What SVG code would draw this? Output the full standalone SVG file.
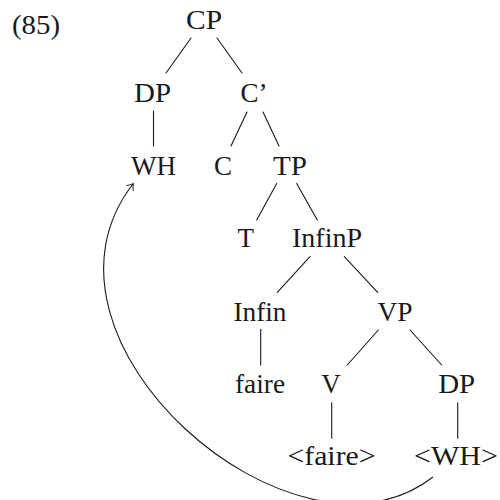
<svg xmlns="http://www.w3.org/2000/svg" width="500" height="500" viewBox="0 0 500 500">
  <style>
    .edge { stroke: #1a1a1a; stroke-width: 1.1; fill: none; stroke-linecap: round; }
    .move { stroke: #1a1a1a; stroke-width: 1.1; fill: none; }
  </style>
  <defs>
    <marker id="tip" viewBox="-6 -5 8 10" markerWidth="8" markerHeight="10" refX="0" refY="0" orient="auto" markerUnits="userSpaceOnUse">
      <path d="M -5 -4 Q -1.5 -1 0.5 0 Q -1.5 1 -5 4" fill="none" stroke="#1a1a1a" stroke-width="1" stroke-linecap="round"/>
    </marker>
  </defs>

  <text x="36" y="34" font-family="'Liberation Serif', serif" font-size="27" fill="#1a1a1a" text-anchor="middle" textLength="48" lengthAdjust="spacingAndGlyphs">(85)</text>

  <!-- tree branches -->
  <g id="connectors">
    <line class="edge" x1="191" y1="38" x2="166" y2="73"/>
    <line class="edge" x1="217" y1="38" x2="242" y2="73"/>
    <line class="edge" x1="153.5" y1="111" x2="153.5" y2="146"/>
    <line class="edge" x1="247" y1="112" x2="231" y2="146"/>
    <line class="edge" x1="263" y1="112" x2="279" y2="146"/>
    <line class="edge" x1="276.7" y1="183.5" x2="256.7" y2="220"/>
    <line class="edge" x1="296.7" y1="183.5" x2="317.3" y2="220"/>
    <line class="edge" x1="310" y1="256.7" x2="277.3" y2="292.3"/>
    <line class="edge" x1="344.3" y1="256.7" x2="377.7" y2="292.3"/>
    <line class="edge" x1="260.7" y1="329.3" x2="260.7" y2="365"/>
    <line class="edge" x1="378.3" y1="330" x2="347.3" y2="365"/>
    <line class="edge" x1="410" y1="330" x2="441.7" y2="365"/>
    <line class="edge" x1="331.7" y1="402.7" x2="331.7" y2="438.3"/>
    <line class="edge" x1="457.7" y1="402.7" x2="457.7" y2="438.3"/>
    <!-- movement arrow from the trace back to the moved phrase -->
    <path class="move" d="M 433 477 C 295 585, 12 340, 133 184" marker-end="url(#tip)"/>
  </g>

  <g font-family="'Liberation Serif', serif" font-size="27" fill="#1a1a1a" text-anchor="middle">
    <g id="n-CP"><text x="204" y="29" textLength="36" lengthAdjust="spacingAndGlyphs">CP</text></g>
    <g id="n-DP1"><text x="152.5" y="102" textLength="37" lengthAdjust="spacingAndGlyphs">DP</text></g>
    <g id="n-Cbar"><text x="254" y="102">C’</text></g>
    <g id="n-WH"><text x="153.5" y="175" textLength="45" lengthAdjust="spacingAndGlyphs">WH</text></g>
    <g id="n-C"><text x="223" y="175">C</text></g>
    <g id="n-TP"><text x="290" y="175" textLength="34" lengthAdjust="spacingAndGlyphs">TP</text></g>
    <g id="n-T"><text x="245.7" y="247">T</text></g>
    <g id="n-InfinP"><text x="327" y="247" textLength="70" lengthAdjust="spacingAndGlyphs">InfinP</text></g>
    <g id="n-Infin"><text x="260" y="321" textLength="53" lengthAdjust="spacingAndGlyphs">Infin</text></g>
    <g id="n-VP"><text x="395" y="321" textLength="35" lengthAdjust="spacingAndGlyphs">VP</text></g>
    <g id="n-faire"><text x="260" y="393" textLength="50" lengthAdjust="spacingAndGlyphs">faire</text></g>
    <g id="n-V"><text x="331" y="393">V</text></g>
    <g id="n-DP2"><text x="456.7" y="393" textLength="37" lengthAdjust="spacingAndGlyphs">DP</text></g>
    <g id="n-faire-trace"><text x="331.5" y="465" textLength="88" lengthAdjust="spacingAndGlyphs">&lt;faire&gt;</text></g>
    <g id="n-WH-trace"><text x="456" y="465" textLength="84" lengthAdjust="spacingAndGlyphs">&lt;WH&gt;</text></g>
  </g>
</svg>
